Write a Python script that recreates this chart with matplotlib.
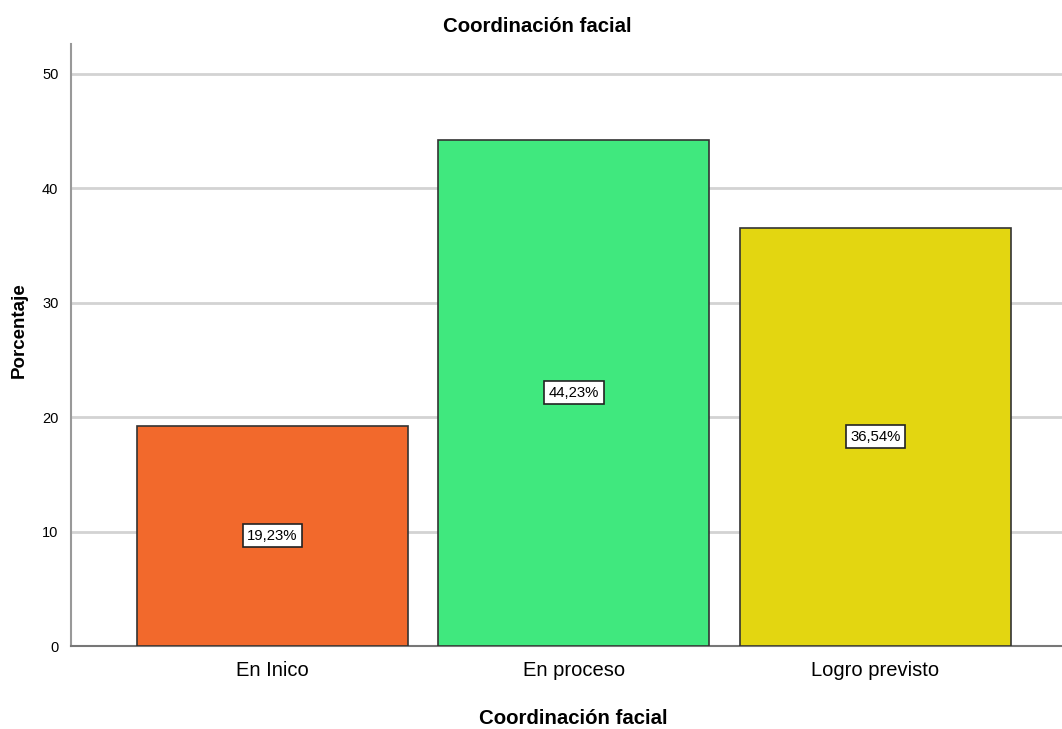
import matplotlib
matplotlib.use("Agg")
import matplotlib.pyplot as plt

categories = ["En Inico", "En proceso", "Logro previsto"]
values = [19.23, 44.23, 36.54]
labels = ["19,23%", "44,23%", "36,54%"]
colors = ["#F2692C", "#40E87E", "#E3D611"]

plt.rcParams['font.family'] = ['Liberation Sans', 'DejaVu Sans']

fig = plt.figure(figsize=(10.62, 7.29), dpi=100)
ax = fig.add_axes([71 / 1062, 1 - 646 / 729, 1 - 71 / 1062, (646 - 44) / 729])

x = range(len(categories))
bars = ax.bar(x, values, width=0.9, color=colors, edgecolor="#333333", linewidth=1.2, zorder=3)

# etiquetas con caja blanca a media altura
for b, v, t in zip(bars, values, labels):
    ax.text(b.get_x() + b.get_width() / 2, v / 2, t, ha="center", va="center", fontsize=10.7,
            zorder=4, bbox=dict(boxstyle="square,pad=0.3", fc="white", ec="#222222", lw=1.2))

ax.set_xlim(-0.669, 2.62)
ax.set_ylim(0, 52.6)
ax.set_yticks([0, 10, 20, 30, 40, 50])
ax.set_xticks(list(x))
ax.set_xticklabels(categories)
ax.tick_params(axis="y", length=0, labelsize=10.5, pad=9)
ax.tick_params(axis="x", length=0, labelsize=14.5, pad=11)
ax.yaxis.grid(True, color="#D3D3D3", linewidth=2, zorder=0)
ax.set_axisbelow(True)

for s in ["top", "right"]:
    ax.spines[s].set_visible(False)
ax.spines["left"].set_color("#999999")
ax.spines["bottom"].set_color("#777777")
ax.spines["left"].set_linewidth(1.5)
ax.spines["bottom"].set_linewidth(1.5)

fig.text(537 / 1062, 1 - 27 / 729, "Coordinación facial", ha="center", va="center",
         fontsize=14.7, fontweight="bold")
fig.text(573 / 1062, 1 - 718 / 729, "Coordinación facial", ha="center", va="center",
         fontsize=14.7, fontweight="bold")
fig.text(19 / 1062, 1 - 330 / 729, "Porcentaje", ha="center", va="center",
         rotation=90, fontsize=13.5, fontweight="bold")

fig.savefig("out.png", dpi=100)
